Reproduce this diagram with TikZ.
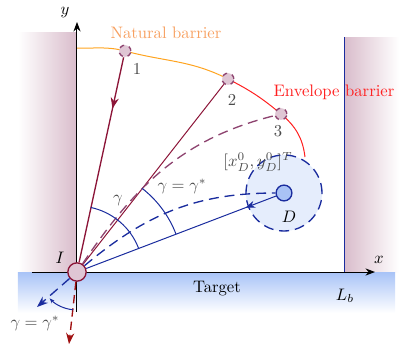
\documentclass[tikz,border=0pt]{standalone}
\usepackage{amsmath}
\usepackage{xcolor}
\usepackage{tikz}
\usetikzlibrary{arrows.meta, calc, decorations.markings}
\definecolor{natural}{HTML}{FFA420}
\definecolor{naturaltext}{HTML}{F7A060}
\definecolor{envelope}{HTML}{FF2020}
\definecolor{wine}{HTML}{8C1538}
\definecolor{darkred}{HTML}{A01010}
\definecolor{plum}{HTML}{8E4470}
\definecolor{navy}{HTML}{1A2C9E}
\definecolor{wall}{HTML}{D9BCCB}
\definecolor{ground}{HTML}{A8C3F7}
\definecolor{pointfill}{HTML}{DFC6D4}
\definecolor{dfill}{HTML}{A9C2F5}
\definecolor{zonefill}{HTML}{E5EDFC}
\definecolor{labelgray}{HTML}{4A4A4A}

\begin{document}
\begin{tikzpicture}[
    x=0.6pt, y=0.6pt,
    axis/.style={-{Stealth}, semithick, black},
    point/.style={circle, draw=plum, dashed, thick, fill=pointfill, minimum size=7pt, inner sep=0pt},
    start/.style={circle, draw=wine, thick, fill=pointfill, minimum size=11pt, inner sep=0pt},
    target/.style={circle, draw=navy, thick, fill=dfill, minimum size=9.5pt, inner sep=0pt},
    zone/.style={circle, draw=navy, thick, dashed, dash pattern=on 6pt off 3.5pt, fill=zonefill, minimum size=45.6pt, inner sep=0pt},
    wineline/.style={semithick, wine},
    plumdash/.style={thick, plum, dash pattern=on 6pt off 3.5pt},
    navyline/.style={semithick, navy},
    navydash/.style={thick, navy, dash pattern=on 6pt off 3.5pt},
    reddash/.style={thick, darkred, dash pattern=on 5pt off 3pt},
    midarrow/.style={postaction={decorate}, decoration={markings, mark=at position #1 with {\arrow{Stealth}}}},
    tag/.style={font=\normalsize, text=labelgray}
  ]
    \useasboundingbox (-77,-74) rectangle (322,272);

    % walls and ground
    \shade[left color=white, right color=wall] (-59,0) rectangle (0,240);
    \shade[left color=wall, right color=white] (267,0) rectangle (322,235);
    \shade[top color=ground, bottom color=white] (-59,-41) rectangle (318,0);

    % barriers
    \coordinate (c0) at (0,224);
    \coordinate (c1) at (48,221);
    \coordinate (c2) at (151,193);
    \coordinate (c3) at (204,158);
    \coordinate (c4) at (228,115);
    \draw[semithick, natural] (c0) to[out=-2, in=165] (c1) to[out=-15, in=153] (c2);
    \draw[semithick, envelope] (c2) to[out=-27, in=140] (c3) to[out=-40, in=97] (c4);

    % axes
    \draw[axis] (-45,0) -- (298,0);
    \draw[axis] (0,0) -- (0,250);
    \draw[semithick, black] (0,0) -- (0,-40);
    \draw[navy, semithick] (267,0) -- (267,235);

    % nodes
    \node[zone] (Dzone) at (207,79) {};
    \node[target] (D) at (207,79) {};
    \node[start] (I) at (0,0) {};
    \node[point] (p1) at (c1) {};
    \node[point] (p2) at (c2) {};
    \node[point] (p3) at (c3) {};
    \coordinate (redend) at (-8,-72);
    \coordinate (blueend) at (-40,-35);

    % paths
    \draw[wineline, thick, midarrow=0.25] (p1) -- (I);
    \draw[wineline] (p2) -- (I);
    \draw[plumdash] (I) to[out=56, in=194] (p3);
    \draw[navyline, midarrow=0.16] (D) -- (I);
    \draw[navydash] (I) to[out=40, in=180] (D);
    \draw[reddash, -{Stealth}] (I) -- (redend);
    \draw[navydash, -{Stealth}] (I) -- (blueend);

    % angles
    \draw[navyline] (21:66) arc[start angle=21, end angle=78, radius=66];
    \draw[navyline] (21:106) arc[start angle=21, end angle=52, radius=106];
    \draw[navyline, -{Stealth[length=3pt]}] (264:38) arc[start angle=264, end angle=224, radius=38];

    % labels
    \node (xlbl) at (302,12) {$x$};
    \node (ylbl) at (-12,259) {$y$};
    \node (Ilbl) at (-17,14) {$I$};
    \node (Dlbl) at (212,55) {$D$};
    \node[tag] (Dpos) at (181,110) {$[x_D^0, y_D^0]^T$};
    \node (trg) at (140,-17) {Target};
    \node (Lb) at (268,-24) {$L_b$};
    \node[tag] (n1) at (60,203) {1};
    \node[tag] (n2) at (155,172) {2};
    \node[tag] (n3) at (201,141) {3};
    \node[tag] (g1) at (41,71) {$\gamma$};
    \node[tag] (g2) at (105,86) {$\gamma = \gamma^*$};
    \node[tag] (g3) at (-42,-51) {$\gamma = \gamma^*$};
    \node[text=naturaltext] (natlbl) at (89,239) {Natural barrier};
    \node[text=envelope] (envlbl) at (257,180) {Envelope barrier};
  \end{tikzpicture}
\end{document}
